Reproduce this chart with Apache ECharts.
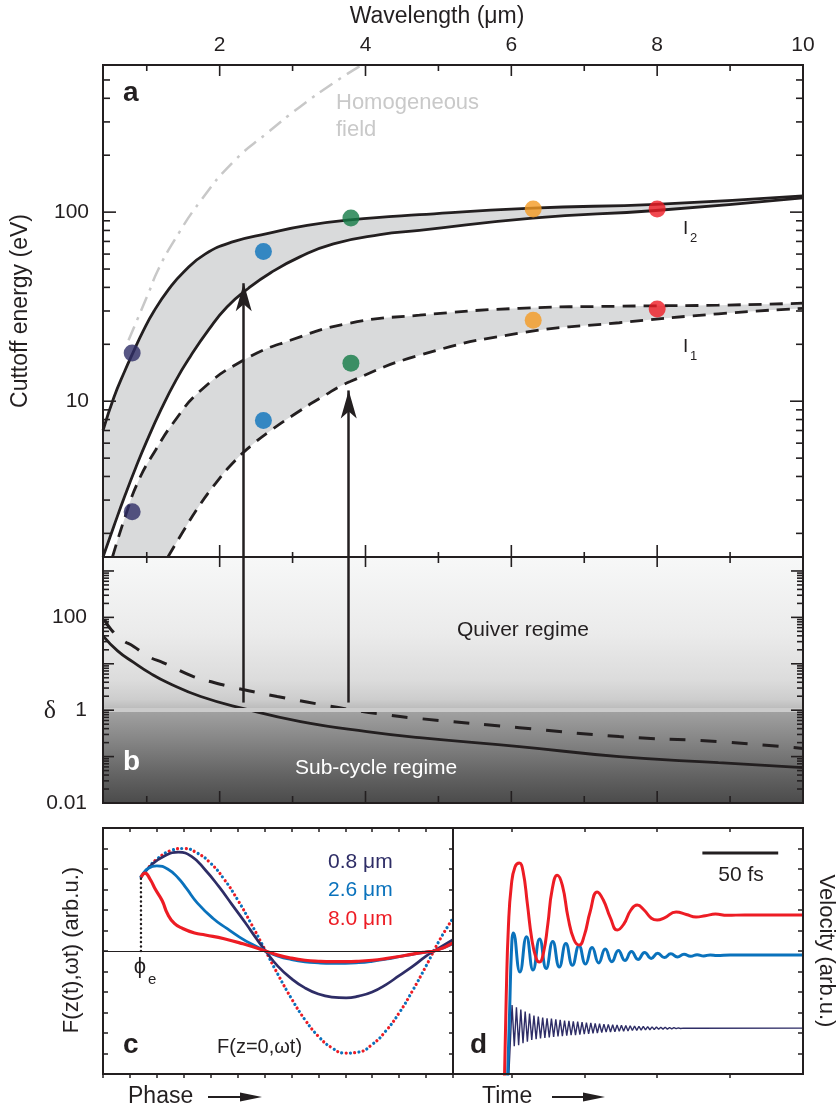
<!DOCTYPE html>
<html>
<head>
<meta charset="utf-8">
</head>
<body style="margin: 0; background: #fff">
<div id="container" style="width: 838px; height: 1108px"></div>
<script src="https://cdn.jsdelivr.net/npm/echarts@6.0.0/dist/echarts.min.js"></script>
<script>
var dom = document.getElementById('container');
var myChart = echarts.init(dom, null, { renderer: 'canvas' });

var INK = '#231f20';
var FONT = 'Liberation Sans, Arial, sans-serif';
var BAND = '#d9dadb';

// ---- tick positions / labels
var lamLabels = [2, 4, 6, 8, 10];
var lamMajor = [2, 4, 6, 8];
var lamMinor = [1, 3, 5, 7, 9];
var energyLabels = [10, 100];
var energyMajor = [10, 100];
var energyMinor = [2, 3, 4, 5, 6, 7, 8, 9, 20, 30, 40, 50, 60, 70, 80, 90, 200, 300, 400, 500];
var deltaLabels = [0.01, 1, 100];
var deltaMajor = [0.1, 1, 10, 100, 1000];
var deltaMinor = [0.02, 0.03, 0.04, 0.05, 0.06, 0.07, 0.08, 0.09,
  0.2, 0.3, 0.4, 0.5, 0.6, 0.7, 0.8, 0.9, 2, 3, 4, 5, 6, 7, 8, 9,
  20, 30, 40, 50, 60, 70, 80, 90, 200, 300, 400, 500, 600, 700, 800, 900, 2000];
var timeTicks = [0, 50, 100, 150];

// ---- panel a: cutoff energy (eV) vs wavelength (um)
var i2Upper = [[0.4, 7.0], [0.55, 10.5], [0.7, 14.5], [0.81, 18], [0.95, 23.5], [1.1, 30], [1.3, 39],
  [1.5, 48], [1.8, 60], [2.2, 70], [2.65, 77], [3.2, 85], [3.79, 91], [4.74, 97], [6.29, 105], [7.98, 110], [10, 122]];
var i2Lower = [[0.4, 1.5], [0.55, 2.19], [0.7, 3.16], [0.85, 4.46], [1.0, 6.15], [1.2, 9.1], [1.4, 12.9],
  [1.6, 17.3], [1.85, 23.9], [2.1, 31.5], [2.4, 39.7], [2.7, 47.8], [3.1, 58], [3.56, 68], [4.2, 76],
  [4.74, 80], [6.29, 93], [7.98, 102], [10, 119]];
var i1Upper = [[0.53, 1.5], [0.71, 2.49], [0.89, 3.82], [1.12, 5.5], [1.37, 7.74], [1.74, 11.4], [2.33, 16.5],
  [2.97, 21], [3.79, 25.9], [4.74, 28.5], [6.11, 31], [7.48, 31.8], [8.84, 32.2], [10, 33]];
var i1Lower = [[1.29, 1.5], [1.5, 2.05], [1.72, 2.8], [1.95, 3.7], [2.2, 4.8], [2.45, 5.9], [2.7, 7.0], [3.0, 8.4],
  [3.4, 10.5], [3.79, 12.7], [4.74, 17.5], [6.11, 22.9], [7.48, 26], [8.84, 29], [10, 31]];
var homogeneous = [[0.75, 21], [1.02, 37], [1.15, 49], [1.37, 70], [1.74, 115], [2.19, 185], [2.65, 262],
  [3.1, 360], [3.56, 482], [3.95, 600]];
var dotLam = [0.8, 2.6, 3.8, 6.3, 8.0];
var dotI2 = [18, 62, 93, 104, 104];
var dotI1 = [2.6, 7.9, 15.9, 26.8, 30.7];
var dotColors = ['#2e2d66', '#0a72bc', '#137a46', '#f49a22', '#ed1c24'];
var arrowLam = [2.33, 3.77];
var arrowTipE = [42, 11.4];
var arrowBaseDelta = [1.46, 1.46];

// ---- panel b: delta vs wavelength
var deltaSolid = [[0.4, 40], [0.6, 19], [0.82, 10.7], [1.05, 6.2], [1.29, 3.9], [1.74, 1.97], [2.33, 1.08],
  [3.11, 0.57], [4.02, 0.345], [4.74, 0.256], [6.11, 0.164], [7.48, 0.1], [8.84, 0.074], [10, 0.058]];
var deltaDashed = [[0.42, 90], [0.51, 55], [0.66, 33], [0.82, 23.7], [1.02, 14.4], [1.23, 10.5], [1.64, 5.3],
  [1.92, 3.95], [2.19, 3.1], [2.52, 2.4], [2.79, 1.97], [3.01, 1.7], [3.38, 1.33], [3.79, 1.03], [4.24, 0.81],
  [4.74, 0.66], [6.11, 0.42], [7.48, 0.27], [8.84, 0.21], [10, 0.15]];

// ---- panel c: field seen by electron vs phase
var fieldVacuum = [[1.41, 3.62], [1.7, 4.09], [2.0, 4.48], [2.5, 4.89], [3.0, 5.0], [3.5, 4.78], [4.0, 4.28],
  [4.5, 3.5], [5.0, 2.5], [5.5, 1.34], [6.0, 0.1], [6.5, -1.15], [7.0, -2.32], [7.5, -3.35], [8.0, -4.16],
  [8.5, -4.72], [9.0, -4.98], [9.5, -4.93], [10, -4.56], [10.5, -3.91], [11, -3.02], [11.5, -1.93],
  [12, -0.73], [12.5, 0.53], [13, 1.6]];
var field08 = [[1.41, 3.6], [1.8, 4.2], [2.3, 4.65], [2.8, 4.82], [3.3, 4.6], [3.8, 3.95], [4.3, 3.15],
  [4.8, 2.25], [5.3, 1.35], [5.7, 0.6], [6.04, 0], [6.5, -0.75], [7, -1.35], [7.5, -1.8], [8, -2.1],
  [8.5, -2.25], [9.03, -2.29], [9.5, -2.2], [10, -2.0], [10.5, -1.65], [11, -1.2], [11.5, -0.75],
  [12, -0.25], [12.3, 0], [13, 0.55]];
var field26 = [[1.41, 3.6], [1.7, 4.05], [2.0, 4.15], [2.4, 4.0], [2.8, 3.55], [3.1, 3.05], [3.5, 2.35],
  [4.08, 1.6], [4.6, 1.1], [5.07, 0.68], [5.5, 0.35], [6.04, 0], [6.5, -0.25], [7, -0.42], [7.5, -0.53],
  [8, -0.58], [8.5, -0.6], [9, -0.6], [9.5, -0.57], [10, -0.5], [10.5, -0.4], [11, -0.28], [11.5, -0.16],
  [12, -0.05], [12.3, 0], [13, 0.35]];
var field80 = [[1.41, 3.6], [1.56, 3.8], [1.75, 3.5], [1.95, 3.0], [2.2, 2.45], [2.4, 1.8], [2.65, 1.35],
  [2.96, 1.1], [3.4, 0.88], [3.8, 0.78], [4.5, 0.6], [5.2, 0.35], [6.04, 0], [6.5, -0.2], [7, -0.35],
  [7.5, -0.45], [8, -0.5], [8.5, -0.52], [9, -0.52], [9.5, -0.5], [10, -0.45], [10.5, -0.37], [11, -0.27],
  [11.5, -0.15], [12, -0.05], [12.3, 0], [13, 0.4]];
var phiE = [[1.41, 0], [1.41, 3.6]];

// ---- panel d: velocity vs time (fs)
var vel80 = [[-4.8, -6.5], [-3.5, -2.2], [-2, 1.2], [0, 3.2], [2.5, 4.1], [5.5, 4.29], [8, 3.9], [11, 2.3],
  [14, 0.6], [17, -0.35], [19.2, -0.54], [22, -0.1], [25, 1.3], [28, 3.0], [31.5, 3.7], [35, 3.2], [39, 1.6],
  [43, 0.55], [46.6, 0.29], [50, 0.75], [54, 1.9], [58.9, 2.88], [63, 2.5], [68, 1.6], [72.6, 1.02], [77, 1.3],
  [82, 2.0], [86.3, 2.24], [91, 2.0], [96, 1.6], [100, 1.51], [105, 1.62], [113, 1.9], [120, 1.78],
  [126.7, 1.66], [133, 1.72], [140, 1.8], [148, 1.74], [160, 1.76], [200, 1.76]];
var vel26 = [[-2.7, -6.5], [-1.2, -3], [0.2, 0.2], [1.4, 0.88], [5.9, -1.02], [10.4, 0.7], [14.9, -0.93],
  [19.4, 0.58], [23.9, -0.85], [28.4, 0.46], [32.9, -0.78], [37.4, 0.36], [41.9, -0.7], [46.4, 0.26],
  [50.9, -0.64], [55.4, 0.17], [59.9, -0.58], [64.4, 0.1], [68.9, -0.52], [73.4, 0.03], [77.9, -0.46],
  [82.4, -0.03], [86.9, -0.41], [91.4, -0.07], [95.9, -0.36], [100.4, -0.11], [104.9, -0.32], [109.4, -0.14],
  [113.9, -0.29], [118.4, -0.16], [122.9, -0.26], [127.4, -0.18], [131.9, -0.24], [136.4, -0.19],
  [141, -0.22], [150, -0.2], [200, -0.2]];
var vel08 = [[-2, -6.5], [0.5, -2.63], [2.0, -4.65], [3.5, -2.75], [5.0, -4.6], [6.5, -2.85], [8.0, -4.5],
  [9.5, -2.95], [11, -4.42], [12.5, -3.05], [14, -4.34], [15.5, -3.15], [17, -4.3], [18.5, -3.2], [20, -4.27],
  [21.5, -3.25], [23, -4.24], [24.5, -3.28], [26, -4.22], [27.5, -3.3], [29, -4.19], [30.5, -3.33], [32, -4.17],
  [33.5, -3.36], [35, -4.15], [36.5, -3.39], [38, -4.13], [39.5, -3.41], [41, -4.11], [42.5, -3.43], [44, -4.1],
  [45.5, -3.45], [47, -4.08], [48.5, -3.47], [50, -4.06], [51.5, -3.49], [53, -4.04], [54.5, -3.51], [56, -4.02],
  [57.5, -3.53], [59, -4.0], [60.5, -3.55], [62, -3.98], [63.5, -3.57], [65, -3.96], [66.5, -3.58], [68, -3.95],
  [69.5, -3.6], [71, -3.94], [72.5, -3.61], [74, -3.92], [75.5, -3.62], [77, -3.91], [78.5, -3.63], [80, -3.9],
  [81.5, -3.65], [83, -3.88], [84.5, -3.66], [86, -3.87], [87.5, -3.67], [89, -3.86], [90.5, -3.68], [92, -3.85],
  [93.5, -3.69], [95, -3.84], [96.5, -3.7], [98, -3.83], [99.5, -3.71], [101, -3.82], [102.5, -3.72], [104, -3.81],
  [105.5, -3.72], [107, -3.81], [108.5, -3.73], [110, -3.8], [111.5, -3.74], [113, -3.79], [114.5, -3.75],
  [116, -3.78], [118, -3.76], [125, -3.77], [200, -3.76]];
var scaleBar = [[131, 4.78], [183, 4.78]];

// same bezier smoothing the line series use, so the grey bands meet the curves
function clampTo(v, a, b) { return Math.min(Math.max(v, Math.min(a, b)), Math.max(a, b)); }
function smoothCurve(p, k) {
  var out = [p[0]];
  var c0 = p[0];
  for (var i = 1; i < p.length; i++) {
    var a = p[i - 1], b = p[i], c1, next0 = null;
    if (i < p.length - 1) {
      var n = p[i + 1];
      var l0 = Math.hypot(b[0] - a[0], b[1] - a[1]);
      var l1 = Math.hypot(n[0] - b[0], n[1] - b[1]);
      var r = l1 / (l0 + l1);
      var nx = clampTo(b[0] + (n[0] - a[0]) * k * r, b[0], n[0]);
      var ny = clampTo(b[1] + (n[1] - a[1]) * k * r, b[1], n[1]);
      var cx = clampTo(b[0] - (nx - b[0]) * l0 / l1, a[0], b[0]);
      var cy = clampTo(b[1] - (ny - b[1]) * l0 / l1, a[1], b[1]);
      c1 = [cx, cy];
      next0 = [b[0] + (b[0] - cx) * l1 / l0, b[1] + (b[1] - cy) * l1 / l0];
    } else {
      c1 = b;
    }
    for (var s = 1; s <= 12; s++) {
      var t = s / 12, u = 1 - t;
      out.push([
        u * u * u * a[0] + 3 * u * u * t * c0[0] + 3 * u * t * t * c1[0] + t * t * t * b[0],
        u * u * u * a[1] + 3 * u * u * t * c0[1] + 3 * u * t * t * c1[1] + t * t * t * b[1]
      ]);
    }
    c0 = next0;
  }
  return out;
}

function bandSeries(upper, lower) {
  return {
    type: 'custom', xAxisIndex: 0, yAxisIndex: 0, z: 1, silent: true, clip: true,
    data: [upper[0]],
    renderItem: function (params, api) {
      var up = smoothCurve(upper.map(function (d) { return api.coord(d); }), 0.5);
      var lo = smoothCurve(lower.map(function (d) { return api.coord(d); }), 0.5).reverse();
      return { type: 'polygon', shape: { points: up.concat(lo) }, style: { fill: BAND } };
    }
  };
}

// tick marks: [x, y, dx, dy] -> short segment from the data point
function ticksAlongY(values, xAt, len) {
  return values.map(function (v) { return [xAt, v, len, 0]; });
}
function ticksAlongX(values, yAt, len) {
  return values.map(function (v) { return [v, yAt, 0, len]; });
}
function tickSeries(xi, yi, items) {
  return {
    type: 'custom', xAxisIndex: xi, yAxisIndex: yi, z: 12, silent: true, clip: false,
    data: items,
    renderItem: function (params, api) {
      var p = api.coord([api.value(0), api.value(1)]);
      return {
        type: 'line',
        shape: { x1: p[0], y1: p[1], x2: p[0] + api.value(2), y2: p[1] + api.value(3) },
        style: { stroke: INK, lineWidth: 1.6 }
      };
    }
  };
}

var ticksA = [].concat(
  ticksAlongY(energyMajor, 0.4, 13), ticksAlongY(energyMinor, 0.4, 7),
  ticksAlongY(energyMajor, 10, -13), ticksAlongY(energyMinor, 10, -7),
  ticksAlongX(lamMajor, 600, 11), ticksAlongX(lamMinor, 600, 6),
  ticksAlongX(lamMajor, 1.5, -12), ticksAlongX(lamMinor, 1.5, -5)
);
var ticksB = [].concat(
  ticksAlongY(deltaMajor, 0.4, 11), ticksAlongY(deltaMinor, 0.4, 6),
  ticksAlongY(deltaMajor, 10, -12), ticksAlongY(deltaMinor, 10, -6),
  ticksAlongX(lamMajor, 2000, 10), ticksAlongX(lamMinor, 2000, 6),
  ticksAlongX(lamMajor, 0.01, -12), ticksAlongX(lamMinor, 0.01, -7)
);

function curve(xi, yi, data, lineStyle, extra) {
  var s = {
    type: 'line', xAxisIndex: xi, yAxisIndex: yi, data: data, smooth: true,
    showSymbol: false, symbol: 'none', silent: true, z: 3,
    lineStyle: lineStyle
  };
  for (var k in extra) s[k] = extra[k];
  return s;
}
var solidA = { color: INK, width: 2.8 };
var dashA = { color: INK, width: 2.8, type: [13, 8] };

function txt(x, y, text, size, opts) {
  opts = opts || {};
  var align = opts.align || 'left';
  return {
    type: 'text', x: x, y: y, rotation: opts.rotation || 0, z: 20, silent: true,
    style: {
      text: text, fill: opts.color || INK,
      fontSize: size, fontFamily: opts.family || FONT, fontWeight: opts.weight || 'normal',
      align: align, textAlign: align, verticalAlign: 'middle', textVerticalAlign: 'middle'
    }
  };
}

var gridBox = { show: true, borderColor: INK, borderWidth: 2, backgroundColor: 'transparent', z: 10 };
function grid(l, t, w, h) {
  return Object.assign({ left: l, top: t, width: w, height: h }, gridBox);
}
// axis lines come from the grid border; keep every axis on its own edge
var noAxisLine = { show: false, onZero: false };
var noSplit = { show: false };
var thinTick = function (inside, len, custom) {
  var t = { show: true, inside: inside, length: len, lineStyle: { color: INK, width: 1.5 } };
  if (custom) t.customValues = custom;
  return t;
};

var dotSeries = function (values) {
  return {
    type: 'scatter', xAxisIndex: 0, yAxisIndex: 0, symbolSize: 17, z: 6, silent: true,
    data: dotLam.map(function (l, i) {
      return { value: [l, values[i]], itemStyle: { color: dotColors[i] } };
    })
  };
};

var option = {
  animation: false,
  backgroundColor: '#ffffff',
  textStyle: { fontFamily: FONT },
  grid: [
    grid(103, 65, 700, 492),
    grid(103, 557, 700, 246),
    grid(103, 828, 350, 246),
    grid(453, 828, 350, 246)
  ],
  xAxis: [
    { gridIndex: 0, type: 'value', position: 'top', min: 0.4, max: 10, axisLine: noAxisLine,
      axisTick: { show: false }, splitLine: noSplit,
      axisLabel: { customValues: lamLabels, margin: 9, fontSize: 21, color: INK, fontFamily: FONT } },
    { gridIndex: 1, type: 'value', min: 0.4, max: 10, axisLine: noAxisLine,
      axisTick: { show: false }, axisLabel: { show: false }, splitLine: noSplit },
    { gridIndex: 2, type: 'value', min: 0, max: 13, interval: 1, axisLine: noAxisLine,
      axisTick: thinTick(false, 4), axisLabel: { show: false }, splitLine: noSplit },
    { gridIndex: 2, type: 'value', position: 'top', min: 0, max: 13, interval: 1, axisLine: noAxisLine,
      axisTick: thinTick(true, 4), axisLabel: { show: false }, splitLine: noSplit },
    { gridIndex: 3, type: 'value', min: -40, max: 200, axisLine: noAxisLine,
      axisTick: thinTick(false, 4, timeTicks), axisLabel: { show: false }, splitLine: noSplit },
    { gridIndex: 3, type: 'value', position: 'top', min: -40, max: 200, axisLine: noAxisLine,
      axisTick: thinTick(true, 4, timeTicks), axisLabel: { show: false }, splitLine: noSplit }
  ],
  yAxis: [
    { gridIndex: 0, type: 'log', min: 1.5, max: 600, axisLine: noAxisLine, axisTick: { show: false },
      splitLine: noSplit,
      axisLabel: { customValues: energyLabels, margin: 14, fontSize: 21, color: INK, fontFamily: FONT,
        formatter: function (v) { return String(v); } } },
    { gridIndex: 1, type: 'log', min: 0.01, max: 2000, axisLine: noAxisLine, axisTick: { show: false },
      splitLine: noSplit,
      axisLabel: { customValues: deltaLabels, margin: 16, fontSize: 21, color: INK, fontFamily: FONT,
        formatter: function (v) { return String(v); } } },
    { gridIndex: 2, type: 'value', min: -6, max: 6, interval: 1, axisLine: noAxisLine,
      axisTick: thinTick(true, 5), axisLabel: { show: false }, splitLine: noSplit },
    { gridIndex: 2, type: 'value', position: 'right', min: -6, max: 6, interval: 1, axisLine: noAxisLine,
      axisTick: thinTick(true, 4), axisLabel: { show: false }, splitLine: noSplit },
    { gridIndex: 3, type: 'value', position: 'right', min: -6, max: 6, interval: 1, axisLine: noAxisLine,
      axisTick: thinTick(true, 5), axisLabel: { show: false }, splitLine: noSplit }
  ],
  series: [
    // ---- panel a
    bandSeries(i2Upper, i2Lower),
    bandSeries(i1Upper, i1Lower),
    curve(0, 0, homogeneous, { color: '#c8c8c8', width: 2.5, type: [15, 7, 3, 7] }),
    curve(0, 0, i2Upper, solidA),
    curve(0, 0, i2Lower, solidA),
    curve(0, 0, i1Upper, dashA),
    curve(0, 0, i1Lower, dashA),
    {
      type: 'line', xAxisIndex: 0, yAxisIndex: 0, silent: true, symbol: 'none', z: 4,
      data: arrowLam.map(function (l) { return [l, 1.5]; }), lineStyle: { width: 0 },
      markLine: {
        silent: true, symbol: ['none', 'arrow'], symbolSize: [12, 28], label: { show: false },
        itemStyle: { color: INK }, lineStyle: { color: INK, width: 2.5, type: 'solid' },
        data: arrowLam.map(function (l, i) { return [{ coord: [l, 1.5] }, { coord: [l, arrowTipE[i]] }]; })
      }
    },
    dotSeries(dotI2),
    dotSeries(dotI1),
    tickSeries(0, 0, ticksA),

    // ---- panel b
    {
      type: 'line', xAxisIndex: 1, yAxisIndex: 1, silent: true, symbol: 'none', z: 0,
      data: [[0.4, 1]], lineStyle: { width: 0 },
      markArea: {
        silent: true,
        data: [
          [{ yAxis: 1, itemStyle: { color: new echarts.graphic.LinearGradient(0, 0, 0, 1, [
            { offset: 0, color: '#f7f8f8' }, { offset: 0.5, color: '#ebebeb' }, { offset: 0.8, color: '#dcdcdc' },
            { offset: 0.93, color: '#cdcdcd' }, { offset: 1, color: '#b8b8b8' }]) } }, { yAxis: 2000 }],
          [{ yAxis: 0.01, itemStyle: { color: new echarts.graphic.LinearGradient(0, 0, 0, 1, [
            { offset: 0, color: '#a2a2a2' }, { offset: 0.35, color: '#838383' }, { offset: 0.7, color: '#636363' },
            { offset: 1, color: '#4b4b4b' }]) } }, { yAxis: 1 }]
        ]
      }
    },
    {
      type: 'line', xAxisIndex: 1, yAxisIndex: 1, silent: true, symbol: 'none', z: 1,
      data: [[0.4, 1]], lineStyle: { width: 0 },
      markLine: {
        silent: true, symbol: ['none', 'none'], label: { show: false },
        lineStyle: { color: '#cbcbcb', width: 4, type: 'solid' },
        data: [{ yAxis: 1 }]
      }
    },
    {
      type: 'line', xAxisIndex: 1, yAxisIndex: 1, silent: true, symbol: 'none', z: 4,
      data: arrowLam.map(function (l, i) { return [l, arrowBaseDelta[i]]; }), lineStyle: { width: 0 },
      markLine: {
        silent: true, symbol: ['none', 'none'], label: { show: false },
        lineStyle: { color: INK, width: 2.5, type: 'solid' },
        data: arrowLam.map(function (l, i) { return [{ coord: [l, arrowBaseDelta[i]] }, { coord: [l, 2000] }]; })
      }
    },
    curve(1, 1, deltaSolid, solidA),
    curve(1, 1, deltaDashed, { color: INK, width: 3, type: [16, 15] }),
    tickSeries(1, 1, ticksB),

    // ---- panel c
    {
      type: 'line', xAxisIndex: 2, yAxisIndex: 2, silent: true, symbol: 'none', z: 2,
      data: [[0, 0]], lineStyle: { width: 0 },
      markLine: {
        silent: true, symbol: ['none', 'none'], label: { show: false },
        lineStyle: { color: INK, width: 1.2, type: 'solid' }, data: [{ yAxis: 0 }]
      }
    },
    curve(2, 2, fieldVacuum, { color: '#0a72bc', width: 3.2, type: [0.01, 8.6], cap: 'round', dashOffset: 0 }),
    curve(2, 2, fieldVacuum, { color: '#ed1c24', width: 3.2, type: [0.01, 8.6], cap: 'round', dashOffset: 4.3 }),
    curve(2, 2, field08, { color: '#2e2d66', width: 2.7 }),
    curve(2, 2, field26, { color: '#0a72bc', width: 2.8 }),
    curve(2, 2, field80, { color: '#ed1c24', width: 3.2 }),
    curve(2, 2, phiE, { color: INK, width: 2.5, type: [0.01, 4.5], cap: 'round' }, { smooth: false }),

    // ---- panel d
    curve(4, 4, vel08, { color: '#2e2d66', width: 1.4 }, { smooth: false }),
    curve(4, 4, vel26, { color: '#0a72bc', width: 3 }),
    curve(4, 4, vel80, { color: '#ed1c24', width: 3 }),
    curve(4, 4, scaleBar, { color: INK, width: 3 }, { smooth: false, z: 4 })
  ],
  graphic: [
    txt(437, 17, 'Wavelength (\u03bcm)', 23, { align: 'center' }),
    txt(21, 311, 'Cuttoff energy (eV)', 23, { align: 'center', rotation: Math.PI / 2 }),
    txt(123, 93, 'a', 28, { weight: 'bold' }),
    txt(336, 103, 'Homogeneous', 22, { color: '#c9c9c9' }),
    txt(336, 130, 'field', 22, { color: '#c9c9c9' }),
    txt(683, 229, 'I', 19),
    txt(690, 238, '2', 13),
    txt(683, 347, 'I', 19),
    txt(690, 356, '1', 13),
    txt(457, 630, 'Quiver regime', 21),
    txt(295, 768, 'Sub-cycle regime', 21, { color: '#ffffff' }),
    txt(123, 762, 'b', 28, { weight: 'bold', color: '#ffffff' }),
    txt(50, 711, '\u03b4', 26, { align: 'center', family: 'Liberation Serif, DejaVu Serif, serif' }),
    txt(72, 950, 'F(z(t),\u03c9t) (arb.u.)', 22, { align: 'center', rotation: Math.PI / 2 }),
    txt(328, 862, '0.8 \u03bcm', 21, { color: '#2e2d66' }),
    txt(328, 890, '2.6 \u03bcm', 21, { color: '#0a72bc' }),
    txt(328, 919, '8.0 \u03bcm', 21, { color: '#ed1c24' }),
    txt(140, 967, '\u03d5', 22, { align: 'center' }),
    txt(148, 980, 'e', 15),
    txt(123, 1045, 'c', 28, { weight: 'bold' }),
    txt(217, 1047, 'F(z=0,\u03c9t)', 20),
    txt(470, 1045, 'd', 28, { weight: 'bold' }),
    txt(741, 875, '50 fs', 21, { align: 'center' }),
    txt(826, 951, 'Velocity (arb.u.)', 22, { align: 'center', rotation: -Math.PI / 2 }),
    txt(128, 1097, 'Phase', 23),
    txt(482, 1097, 'Time', 23),
    { type: 'line', z: 20, silent: true, shape: { x1: 208, y1: 1097, x2: 242, y2: 1097 }, style: { stroke: INK, lineWidth: 2 } },
    { type: 'polygon', z: 20, silent: true, shape: { points: [[240, 1092.5], [262, 1097], [240, 1101.5]] }, style: { fill: INK } },
    { type: 'line', z: 20, silent: true, shape: { x1: 552, y1: 1097, x2: 585, y2: 1097 }, style: { stroke: INK, lineWidth: 2 } },
    { type: 'polygon', z: 20, silent: true, shape: { points: [[583, 1092.5], [605, 1097], [583, 1101.5]] }, style: { fill: INK } }
  ]
};

if (option && typeof option === 'object') {
  myChart.setOption(option);
}
window.addEventListener('resize', myChart.resize);
</script>
</body>
</html>
